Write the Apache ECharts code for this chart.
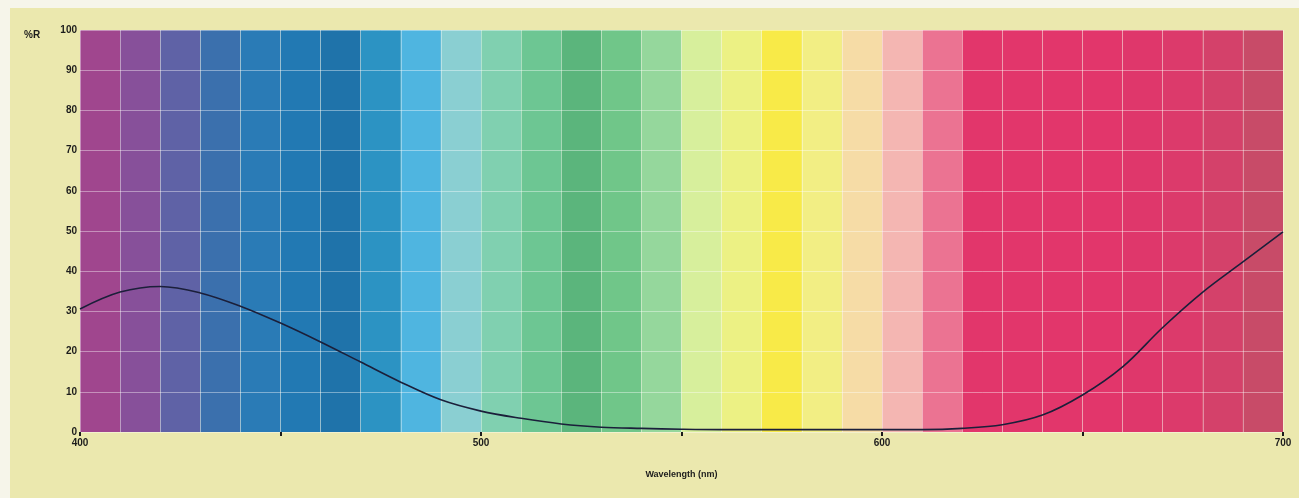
<!DOCTYPE html>
<html>
<head>
<meta charset="utf-8">
<script src="https://cdn.jsdelivr.net/npm/echarts@6/dist/echarts.min.js"></script>
<style>
  html, body { margin: 0; padding: 0; background: #f6f5ea; }
  #main { width: 1299px; height: 498px; }
</style>
</head>
<body>
<div id="main"></div>
<script>
// wavelength (nm) and reflectance (%R)
const wavelengths = [400, 410, 420, 430, 440, 450, 460, 470, 480, 490, 500,
  510, 520, 530, 540, 550, 560, 570, 580, 590, 600,
  610, 620, 630, 640, 650, 660, 670, 680, 690, 700];
const reflectance = [30.6, 34.8, 36.2, 34.6, 31.3, 27.1, 22.4, 17.4, 12.4, 8.0, 5.2,
  3.4, 2.0, 1.2, 0.9, 0.7, 0.6, 0.6, 0.6, 0.6, 0.6,
  0.6, 0.9, 1.8, 4.2, 9.2, 16.2, 26.0, 34.8, 42.3, 49.8];

// spectrum colour bands, 10 nm wide each
const bandStarts = [400, 410, 420, 430, 440, 450, 460, 470, 480, 490,
  500, 510, 520, 530, 540, 550, 560, 570, 580, 590,
  600, 610, 620, 630, 640, 650, 660, 670, 680, 690];
const bandColors = ['#a0468e', '#87509a', '#5f62a6', '#3b70ad', '#2a7bb6',
  '#2279b3', '#1f73aa', '#2c93c3', '#4fb5e0', '#8acfd2',
  '#80d0b0', '#6dc693', '#5bb57c', '#70c689', '#95d79c',
  '#d7ef9c', '#ecf184', '#f8ea48', '#f2ee84', '#f6dca6',
  '#f4b6b2', '#eb7392', '#e2366b', '#e2366b', '#e2366b',
  '#e2366b', '#df376b', '#dc3a6b', '#d4416a', '#c84b68'];

const yMin = 0, yMax = 100;

const myChart = echarts.init(document.getElementById('main'));

const bandData = bandStarts.map((s, i) => [s, s + 10, i]);
const curveData = wavelengths.map((w, i) => [w, reflectance[i]]);

const labelFont = {
  color: '#1c1c1c',
  fontFamily: 'Liberation Sans, Arial, sans-serif',
  fontWeight: 'bold',
  fontSize: 10
};
const gridLine = { color: 'rgba(255,255,255,0.4)', width: 1 };

const option = {
  animation: false,
  graphic: [
    {
      type: 'rect',
      left: 10, top: 8,
      shape: { width: 1289, height: 490 },
      style: { fill: '#ebe8ae' },
      z: -10
    },
    {
      type: 'text',
      left: 24, top: 30,
      style: { text: '%R', fill: '#1c1c1c', font: 'bold 10px Liberation Sans, Arial' }
    }
  ],
  grid: {
    left: 80,
    right: 16,
    top: 30,
    bottom: 66
  },
  xAxis: {
    type: 'value',
    min: 400,
    max: 700,
    interval: 50,
    z: 3,
    name: 'Wavelength (nm)',
    nameLocation: 'middle',
    nameGap: 38,
    nameTextStyle: Object.assign({}, labelFont, { fontSize: 9 }),
    axisLine: { show: false },
    axisTick: { show: true, length: 4, lineStyle: { color: '#1c1c1c', width: 2 } },
    minorTick: { show: false, splitNumber: 5 },
    axisLabel: Object.assign({
      margin: 6,
      formatter: function (v) { return v % 100 === 0 ? String(v) : ''; }
    }, labelFont),
    splitLine: { show: true, lineStyle: gridLine },
    minorSplitLine: { show: true, lineStyle: gridLine }
  },
  yAxis: {
    type: 'value',
    min: yMin,
    max: yMax,
    interval: 10,
    z: 3,
    axisLine: { show: false },
    axisTick: { show: false },
    axisLabel: Object.assign({ margin: 3 }, labelFont),
    splitLine: { show: true, lineStyle: gridLine }
  },
  series: [
    {
      name: 'bands',
      type: 'custom',
      z: 1,
      silent: true,
      data: bandData,
      encode: { x: [0, 1] },
      renderItem: function (params, api) {
        const p0 = api.coord([api.value(0), yMax]);
        const p1 = api.coord([api.value(1), yMin]);
        return {
          type: 'rect',
          shape: { x: p0[0], y: p0[1], width: p1[0] - p0[0], height: p1[1] - p0[1] },
          style: { fill: bandColors[api.value(2)] }
        };
      }
    },
    {
      name: 'reflectance',
      type: 'line',
      z: 5,
      smooth: 0.35,
      symbol: 'none',
      data: curveData,
      lineStyle: { color: '#1b1f3a', width: 1.6 }
    }
  ]
};

myChart.setOption(option);
</script>
</body>
</html>
